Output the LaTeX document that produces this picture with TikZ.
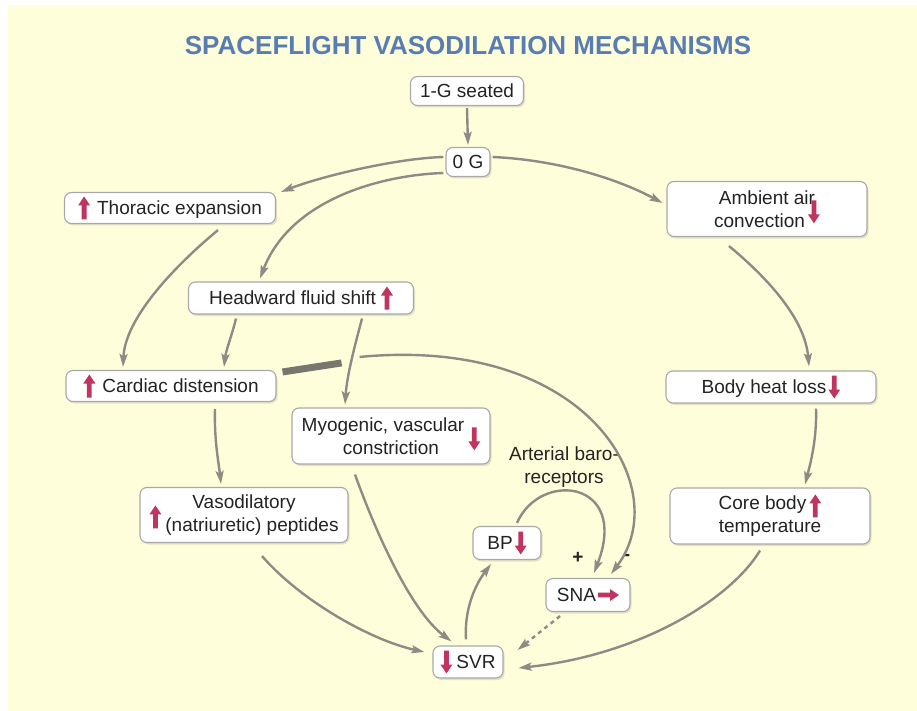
\documentclass[tikz,border=0pt]{standalone}
\usepackage{fontspec}
\setmainfont{Liberation Sans}
\usetikzlibrary{arrows.meta,shadows,calc}
\definecolor{bgyellow}{RGB}{255,254,218}
\definecolor{titleblue}{RGB}{88,124,180}
\definecolor{arrred}{RGB}{192,52,96}
\definecolor{conngray}{RGB}{140,140,132}
\definecolor{boxborder}{RGB}{168,168,168}
\definecolor{txt}{RGB}{35,35,35}
\tikzset{glyph/.style={baseline=0pt, x=1pt, y=1pt, sharp corners, line width=0pt}}
\newcommand{\uparr}{\tikz[glyph]\fill[arrred] (-2.4,-5) -- (-2.4,9) -- (-6,9) -- (0,18) -- (6,9) -- (2.4,9) -- (2.4,-5) -- cycle;}
\newcommand{\dnarr}{\tikz[glyph]\fill[arrred] (-2.4,18) -- (-2.4,4) -- (-6,4) -- (0,-5) -- (6,4) -- (2.4,4) -- (2.4,18) -- cycle;}
\newcommand{\rtarr}{\tikz[glyph]\fill[arrred] (0,4.2) -- (12,4.2) -- (12,0.5) -- (21,6.5) -- (12,12.5) -- (12,8.8) -- (0,8.8) -- cycle;}
\tikzset{
  box/.style={draw=boxborder, line width=1.1pt, fill=white, rounded corners=7pt,
    drop shadow={shadow xshift=1.5pt, shadow yshift=-2pt, opacity=0.22},
    text=txt, font=\fontsize{19}{23}\selectfont, align=center, inner sep=0pt},
  conn/.style={draw=conngray, line width=2.4pt, -{Stealth[length=13pt,width=8pt,inset=2.5pt]}},
  lbl/.style={text=txt, font=\fontsize{19}{23}\selectfont, align=center, inner sep=0pt},
}
\begin{document}
\begin{tikzpicture}[x=1pt,y=-1pt]
\useasboundingbox (0,0) rectangle (917,711);
\fill[white] (0,0) rectangle (917,711);
\fill[bgyellow] (8,5) rectangle (917,711);

\node[text=titleblue, font=\fontsize{26}{30}\selectfont\bfseries, inner sep=0pt] (title) at (468,46) {SPACEFLIGHT VASODILATION MECHANISMS};

\node[box, minimum width=113pt, minimum height=29pt] (n1g) at (467,91) {1-G seated};
\node[box, minimum width=44pt, minimum height=29pt] (n0g) at (468,162) {0 G};
\node[box, minimum width=211pt, minimum height=31pt] (thor) at (170,208) {\uparr\hspace{7pt}Thoracic expansion};
\node[box, minimum width=200pt, minimum height=55pt] (amb) at (767,209) {Ambient air\\convection\hspace{3pt}\raisebox{9pt}[0pt][0pt]{\dnarr}};
\node[box, minimum width=225pt, minimum height=32pt] (head) at (301,298) {Headward fluid shift\hspace{5pt}\uparr};
\node[box, minimum width=210pt, minimum height=31pt] (card) at (171,386) {\uparr\hspace{7pt}Cardiac distension};
\node[box, minimum width=210pt, minimum height=32pt] (heat) at (771,387) {Body heat loss\hspace{2pt}\dnarr};
\node[box, minimum width=198pt, minimum height=56pt] (myo) at (391,436) {Myogenic, vascular\hspace{4pt}\raisebox{-14pt}[0pt][0pt]{\dnarr}\\constriction};
\node[lbl] (baro) at (564,467) {Arterial baro-\\receptors};
\node[box, minimum width=208pt, minimum height=55pt] (vaso) at (244,515) {Vasodilatory\\\raisebox{8pt}[0pt][0pt]{\uparr}\hspace{4pt}(natriuretic) peptides};
\node[box, minimum width=200pt, minimum height=56pt] (core) at (770,516) {Core body\hspace{3pt}\raisebox{-3pt}[0pt][0pt]{\uparr}\\temperature};
\node[box, minimum width=68pt, minimum height=33pt] (bp) at (507,543) {BP\hspace{2pt}\dnarr};
\node[box, minimum width=84pt, minimum height=33pt] (sna) at (588,595) {SNA\hspace{2pt}\rtarr};
\node[box, minimum width=70pt, minimum height=32pt] (svr) at (468,662) {\dnarr\hspace{4pt}SVR};
\node[lbl, font=\fontsize{19}{23}\selectfont\bfseries] (plus) at (578,558) {+};
\node[lbl, font=\fontsize{19}{23}\selectfont\bfseries] (minus) at (627,557) {-};

% connectors
\draw[conn] ($(n1g.south)+(0,2)$) -- ($(n0g.north)+(0,-2)$);
\draw[conn] ($(n0g.west)+(-2,-5)$) .. controls (400,158) and (325,175) .. ($(thor.north east)+(5,0)$);
\draw[conn] ($(n0g.west)+(-2,11)$) .. controls (380,175) and (290,200) .. ($(head.north)+(-41,-3)$);
\draw[conn] ($(n0g.east)+(2,-5)$) .. controls (560,160) and (620,180) .. ($(amb.west)+(-4,-6)$);
\draw[conn] ($(thor.south)+(48,6)$) .. controls (170,270) and (125,320) .. ($(card.north)+(-48,-3)$);
\draw[conn] ($(head.south)+(-65,4)$) .. controls (232,335) and (226,350) .. ($(card.north)+(53,-3)$);
\draw[conn] ($(head.south)+(61,4)$) .. controls (355,345) and (347,375) .. ($(myo.north)+(-46,-3)$);
\draw[conn] ($(amb.south)+(-38,9)$) .. controls (770,280) and (805,320) .. ($(heat.north)+(38,-4)$);
\draw[conn] ($(heat.south)+(45,5)$) .. controls (817,440) and (810,465) .. ($(core.north)+(35,-3)$);
\draw[conn] ($(card.south)+(44,7)$) .. controls (214,440) and (219,465) .. ($(vaso.north)+(-23,-3)$);
\coordinate (barA) at ($(card.north east)+(6,2)$);
\coordinate (barB) at ($(card.north east)+(65,-7)$);
\coordinate (barC) at ($(card.north east)+(83,-13)$);
\draw[draw=conngray!85!black, line width=7pt] (barA) -- (barB);
\draw[conn] (barC) .. controls (590,335) and (675,490) .. ($(sna.north)+(23,-4)$);
\draw[conn] ($(myo.south)+(-36,10)$) .. controls (375,530) and (410,610) .. ($(svr.north west)+(19,-4)$);
\draw[conn] ($(vaso.south)+(18,13)$) .. controls (300,600) and (370,640) .. ($(svr.west)+(-8,-10)$);
\draw[conn] ($(svr.north)+(-2,-6)$) .. controls (464,610) and (475,585) .. ($(bp.south)+(-16,4)$);
\draw[conn] ($(bp.north)+(10,-3)$) .. controls (540,470) and (630,480) .. ($(sna.north)+(6,-5)$);
\draw[conn, dash pattern=on 4pt off 4pt] ($(sna.south)+(-28,4)$) -- ($(svr.east)+(14,-12)$);
\draw[conn] ($(core.south)+(-10,6)$) .. controls (730,600) and (640,655) .. ($(svr.east)+(15,6)$);
\end{tikzpicture}
\end{document}
